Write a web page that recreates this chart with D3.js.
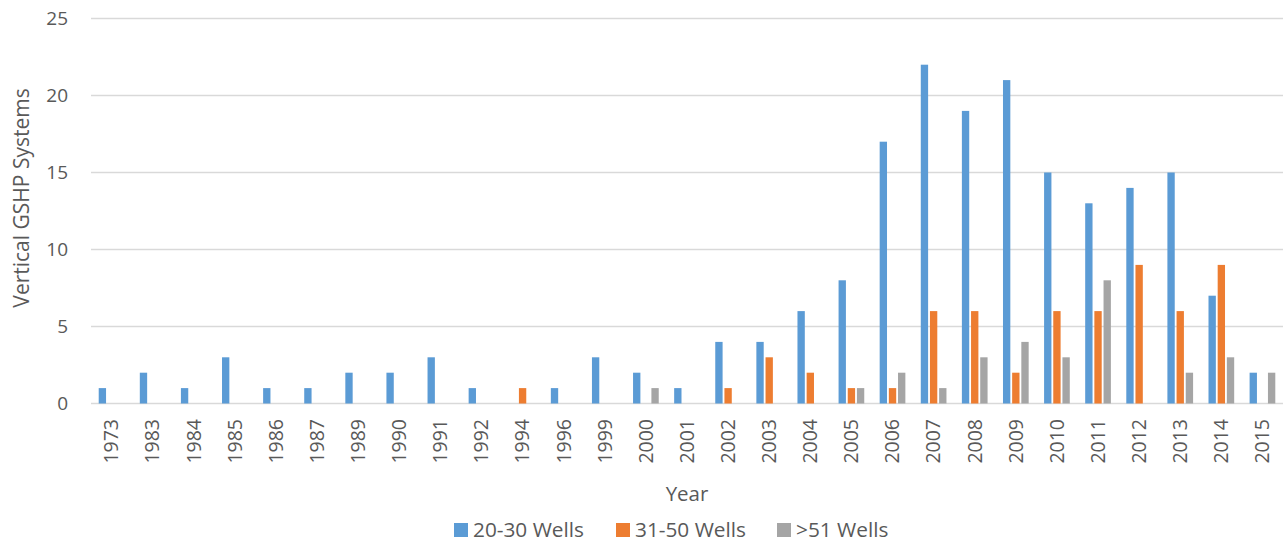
<!DOCTYPE html>
<html>
<head>
<meta charset="utf-8">
<script src="https://cdn.jsdelivr.net/npm/d3@7"></script>
<style>
  body { margin: 0; background: #fff; }
  text { font-family: "Open Sans", "Liberation Sans", sans-serif; fill: #595959; }
</style>
</head>
<body>
<script>
var years = ["1973", "1983", "1984", "1985", "1986", "1987", "1989", "1990", "1991", "1992",
             "1994", "1996", "1999", "2000", "2001", "2002", "2003", "2004", "2005", "2006",
             "2007", "2008", "2009", "2010", "2011", "2012", "2013", "2014", "2015"];
var wells20to30 = [1, 2, 1, 3, 1, 1, 2, 2, 3, 1, 0, 1, 3, 2, 1, 4, 4, 6, 8, 17, 22, 19, 21, 15, 13, 14, 15, 7, 2];
var wells31to50 = [0, 0, 0, 0, 0, 0, 0, 0, 0, 0, 1, 0, 0, 0, 0, 1, 3, 2, 1, 1, 6, 6, 2, 6, 6, 9, 6, 9, 0];
var wellsOver51 = [0, 0, 0, 0, 0, 0, 0, 0, 0, 0, 0, 0, 0, 1, 0, 0, 0, 0, 1, 2, 1, 3, 4, 3, 8, 0, 2, 3, 2];
var seriesNames = ["20-30 Wells", "31-50 Wells", ">51 Wells"];
var colors = ["#5B9BD5", "#ED7D31", "#A5A5A5"];
var yTicks = [0, 5, 10, 15, 20, 25];

// Width and height
var w = 1283;
var h = 545;
var plotLeft = 91, plotRight = 1283, plotTop = 18.5, plotBottom = 403.5;

var svg = d3.select('body')
            .append('svg')
            .attr('width', w)
            .attr('height', h);

var x0 = d3.scaleBand()
  .domain(years)
  .range([plotLeft, plotRight])
  .paddingInner(0.375)
  .paddingOuter(0.1875);

var x1 = d3.scaleBand()
  .domain(seriesNames)
  .range([0, x0.bandwidth()])
  .paddingInner(0.2);

var y = d3.scaleLinear()
  .domain([0, 25])
  .range([plotBottom, plotTop]);

// gridlines
svg.append('g')
  .selectAll('line')
  .data(yTicks)
  .enter()
  .append('line')
  .attr('x1', plotLeft)
  .attr('x2', plotRight)
  .attr('y1', d => y(d))
  .attr('y2', d => y(d))
  .attr('stroke', '#D9D9D9')
  .attr('stroke-width', 1.3);

// y tick labels
svg.append('g')
  .selectAll('text')
  .data(yTicks)
  .enter()
  .append('text')
  .attr('x', 68)
  .attr('y', d => y(d))
  .attr('dy', '0.35em')
  .attr('text-anchor', 'end')
  .attr('font-size', '19px')
  .text(d => d);

var allSeries = [wells20to30, wells31to50, wellsOver51];

allSeries.forEach((vals, s) => {
  svg.append('g')
    .selectAll('rect')
    .data(vals)
    .enter()
    .append('rect')
    .attr('x', (d, i) => x0(years[i]) + x1(seriesNames[s]))
    .attr('y', d => y(d))
    .attr('width', x1.bandwidth())
    .attr('height', d => y(0) - y(d))
    .attr('fill', colors[s]);
});

// x labels (rotated)
svg.append('g')
  .selectAll('text')
  .data(years)
  .enter()
  .append('text')
  .attr('transform', d => 'translate(' + (x0(d) + x0.bandwidth() / 2) + ',' + 419 + ') rotate(-90)')
  .attr('text-anchor', 'end')
  .attr('dy', '0.35em')
  .attr('font-size', '19.5px')
  .text(d => d);

// axis titles
svg.append('text')
  .attr('x', 687)
  .attr('y', 494)
  .attr('dy', '0.35em')
  .attr('text-anchor', 'middle')
  .attr('font-size', '20.5px')
  .text('Year');

svg.append('text')
  .attr('transform', 'translate(22,' + 198 + ') rotate(-90)')
  .attr('dy', '0.35em')
  .attr('text-anchor', 'middle')
  .attr('font-size', '21px')
  .text('Vertical GSHP Systems');

// legend
var legendX = [454, 616, 777];
var legend = svg.append('g')
  .selectAll('g')
  .data(seriesNames)
  .enter()
  .append('g')
  .attr('transform', (d, i) => 'translate(' + legendX[i] + ',' + 530 + ')');

legend.append('rect')
  .attr('x', 0)
  .attr('y', -7)
  .attr('width', 14)
  .attr('height', 14)
  .attr('fill', (d, i) => colors[i]);

legend.append('text')
  .attr('x', 19)
  .attr('y', 0)
  .attr('dy', '0.35em')
  .attr('font-size', '20.8px')
  .text(d => d);
</script>
</body>
</html>
